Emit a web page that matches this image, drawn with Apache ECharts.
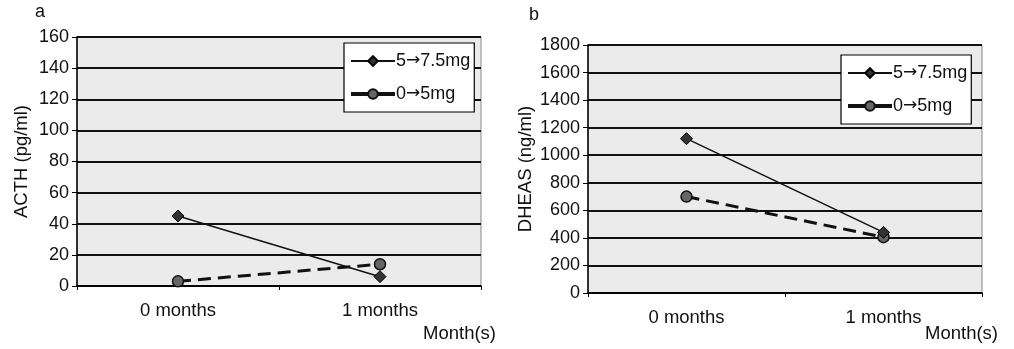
<!DOCTYPE html>
<html>
<head>
<meta charset="utf-8">
<script src="https://cdn.jsdelivr.net/npm/echarts@6/dist/echarts.min.js"></script>
<style>
  html, body { margin: 0; padding: 0; background: #fff; }
  #chart { width: 1014px; height: 349px; }
</style>
</head>
<body>
<div id="chart"></div>
<script>
const categories = ['0 months', '1 months']
const seriesNames = ['5\u21927.5mg', '0\u21925mg']

// panel a: ACTH (pg/ml)
const acthHigh = [45, 6]
const acthLow = [3, 14]
const acthTicks = { min: 0, max: 160, interval: 20 }

// panel b: DHEAS (ng/ml)
const dheasHigh = [1120, 440]
const dheasLow = [700, 405]
const dheasTicks = { min: 0, max: 1800, interval: 200 }

const font = 'Liberation Sans, Arial, sans-serif'

const chart = echarts.init(document.getElementById('chart'))

const makeX = (gridIndex) => ({
  type: 'category',
  gridIndex,
  data: categories,
  boundaryGap: true,
  axisLine: { lineStyle: { color: '#000', width: 1.5 } },
  axisTick: { show: true, length: 4, lineStyle: { color: '#000' } },
  axisLabel: { color: '#111', fontSize: 18.5, fontFamily: font, margin: 15 },
})

const makeY = (gridIndex, ticks, name, gap) => ({
  type: 'value',
  gridIndex,
  min: ticks.min,
  max: ticks.max,
  interval: ticks.interval,
  name,
  nameLocation: 'middle',
  nameGap: gap,
  nameTextStyle: { color: '#111', fontSize: 18.5, fontFamily: font },
  axisLine: { show: true, lineStyle: { color: '#000', width: 1.5 } },
  axisTick: { show: true, length: 5, lineStyle: { color: '#000' } },
  axisLabel: { color: '#111', fontSize: 18, fontFamily: font, margin: 8, formatter: (v) => String(v) },
  splitLine: { show: true, lineStyle: { color: '#111', width: 2 } },
})

const makeSeries = (idx, high, low) => [
  {
    name: seriesNames[0],
    type: 'line',
    xAxisIndex: idx,
    yAxisIndex: idx,
    data: high,
    symbol: 'diamond',
    symbolSize: 12,
    itemStyle: { color: '#333', borderColor: '#000', borderWidth: 1 },
    lineStyle: { color: '#111', width: 1.5 },
    z: 3,
  },
  {
    name: seriesNames[1],
    type: 'line',
    xAxisIndex: idx,
    yAxisIndex: idx,
    data: low,
    symbol: 'circle',
    symbolSize: 11,
    itemStyle: { color: '#666', borderColor: '#111', borderWidth: 1.5 },
    lineStyle: { color: '#111', width: 3, type: [13, 7] },
    z: 2,
  },
]

const makeLegend = (left, top) => ({
  left,
  top,
  orient: 'vertical',
  data: [
    { name: seriesNames[0] },
    { name: seriesNames[1], lineStyle: { type: 'solid', width: 4 } },
  ],
  backgroundColor: '#fff',
  borderColor: '#000',
  borderWidth: 1.2,
  padding: [9, 4, 9, 5],
  itemGap: 15,
  itemWidth: 44,
  itemHeight: 12,
  formatter: (name) => name.replace('\u2192', '{arr|\u2192}'),
  textStyle: {
    color: '#111', fontSize: 18, fontFamily: font, padding: [0, 0, 0, -4],
    rich: { arr: { fontFamily: 'DejaVu Sans', fontSize: 17, color: '#111' } },
  },
  selectedMode: false,
})

chart.setOption({
  backgroundColor: '#fff',
  animation: false,
  grid: [
    { left: 77, top: 37, width: 404, height: 249, show: true, backgroundColor: '#ebebeb', borderColor: '#888', borderWidth: 1 },
    { left: 588, top: 45, width: 394, height: 248, show: true, backgroundColor: '#ebebeb', borderColor: '#888', borderWidth: 1 },
  ],
  xAxis: [makeX(0), makeX(1)],
  yAxis: [makeY(0, acthTicks, 'ACTH (pg/ml)', 46), makeY(1, dheasTicks, 'DHEAS (ng/ml)', 53)],
  legend: [makeLegend(344, 43), makeLegend(841, 55)],
  series: [...makeSeries(0, acthHigh, acthLow), ...makeSeries(1, dheasHigh, dheasLow)],
  graphic: [
    { type: 'text', left: 35, top: 3, style: { text: 'a', fontSize: 18, fontFamily: font, fill: '#111' } },
    { type: 'text', left: 529, top: 6, style: { text: 'b', fontSize: 18, fontFamily: font, fill: '#111' } },
    { type: 'text', left: 423, top: 324, style: { text: 'Month(s)', fontSize: 18.5, fontFamily: font, fill: '#111' } },
    { type: 'text', left: 925, top: 324, style: { text: 'Month(s)', fontSize: 18.5, fontFamily: font, fill: '#111' } },
  ],
})
</script>
</body>
</html>
